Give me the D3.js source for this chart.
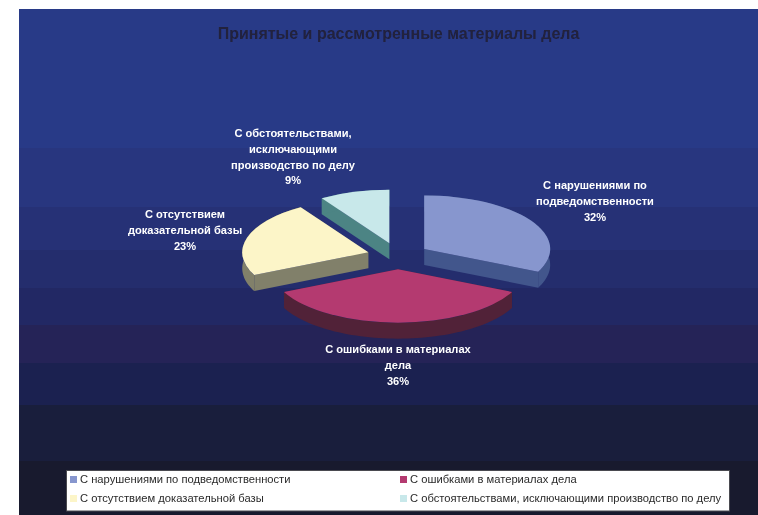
<!DOCTYPE html>
<html><head><meta charset="utf-8">
<script src="https://cdn.jsdelivr.net/npm/d3@7"></script>
<style>html,body{margin:0;padding:0;background:#fff}svg{display:block}</style>
</head><body><div id="chart"></div>
<script>
const categories = ["С нарушениями по подведомственности","С ошибками в материалах дела","С отсутствием доказательной базы","С обстоятельствами, исключающими производство по делу"];
const values = [32,36,23,9];
const labelLines = [["С нарушениями по","подведомственности"],["С ошибками в материалах","дела"],["С отсутствием","доказательной базы"],["С обстоятельствами,","исключающими","производство по делу"]];
const topColors = ["#8796ce","#b43a70","#fcf5c8","#c8e8ea"];
const sideColors = ["#42568c","#512238","#81806a","#4c8484"];
const bandEdges = [9,148,207,250,288,325,363,405,461,515];
const bandColors = ["#283a87","#28367f","#263176","#242d6d","#222864","#252357","#1b2150","#191e3c","#181a2e"];
const title = "Принятые и рассмотренные материалы дела";

const W=758,H=515;
const svg=d3.select("#chart").append("svg").attr("width",W).attr("height",H);
const font="'Liberation Sans',Arial,sans-serif";
const blur=svg.append("defs").append("filter").attr("id","soft").attr("x","-5%").attr("y","-20%").attr("width","110%").attr("height","140%");
blur.append("feGaussianBlur").attr("stdDeviation",0.35);

svg.selectAll("rect.band").data(bandColors).join("rect").attr("class","band")
  .attr("x",19).attr("width",W-19)
  .attr("y",(d,i)=>bandEdges[i]).attr("height",(d,i)=>bandEdges[i+1]-bandEdges[i]+0.5)
  .attr("fill",d=>d);

svg.append("text").text(title).attr("x",398.5).attr("y",38.5).attr("text-anchor","middle")
  .attr("font-family",font).attr("font-weight","bold").attr("font-size",16).attr("fill","#20203c").attr("filter","url(#soft)");

const cx=398,cy=256,rx=126,ry=53.5,depth=16,explode=31;
const k=ry/rx;
const pie=d3.pie().sort(null).value(d=>d);
const arcs=pie(values);
const arc=d3.arc().innerRadius(0).outerRadius(rx);
const px=a=>rx*Math.sin(a), py=a=>-ry*Math.cos(a);
const g=svg.append("g").attr("transform",`translate(${cx},${cy})`);
arcs.forEach((d,i)=>{
  const mid=(d.startAngle+d.endAngle)/2;
  const ox=explode*Math.sin(mid), oy=-explode*Math.cos(mid)*k;
  const s=g.append("g").attr("transform",`translate(${ox},${oy})`);
  const wall=(a)=>[[0,0],[px(a),py(a)],[px(a),py(a)+depth],[0,depth]];
  [d.startAngle,d.endAngle].forEach(a=>{
    s.append("path").attr("d",d3.line()(wall(a))+"Z").attr("fill",sideColors[i]);
  });
  const aScale=d3.scaleLinear().domain([0,60]).range([d.startAngle,d.endAngle]);
  const outer=d3.range(61).map(t=>aScale(t));
  const pts=outer.map(a=>[px(a),py(a)]).concat(outer.slice().reverse().map(a=>[px(a),py(a)+depth]));
  s.append("path").attr("d",d3.line()(pts)+"Z").attr("fill",sideColors[i]);
  s.append("path").attr("d",arc(d)).attr("transform",`scale(1,${k})`).attr("fill",topColors[i]);
});

const labelAnchors=[[595,189],[398,353],[185,218],[293,137]];
arcs.forEach((d,i)=>{
  const lines=labelLines[i].concat([values[i]+"%"]);
  const t=svg.append("text").attr("text-anchor","middle").attr("font-family",font).attr("font-weight","bold")
    .attr("font-size",11.1).attr("fill","#fff").attr("filter","url(#soft)");
  lines.forEach((l,j)=>t.append("tspan").attr("x",labelAnchors[i][0]).attr("y",labelAnchors[i][1]+j*15.8).text(l));
});

svg.append("rect").attr("x",66.5).attr("y",470.5).attr("width",663).attr("height",40.5).attr("fill","#fff").attr("stroke","#4a4a50").attr("stroke-width",1);
const legendCols=[70,400], legendRows=[476,495];
categories.forEach((c,i)=>{
  const x=legendCols[i%2], y=legendRows[i>>1];
  svg.append("rect").attr("x",x).attr("y",y).attr("width",7).attr("height",7).attr("fill",topColors[i]);
  svg.append("text").text(c).attr("x",x+10).attr("y",y+7.3).attr("font-family",font).attr("font-size",11.2).attr("fill","#2a2a2a").attr("filter","url(#soft)");
});
</script></body></html>
